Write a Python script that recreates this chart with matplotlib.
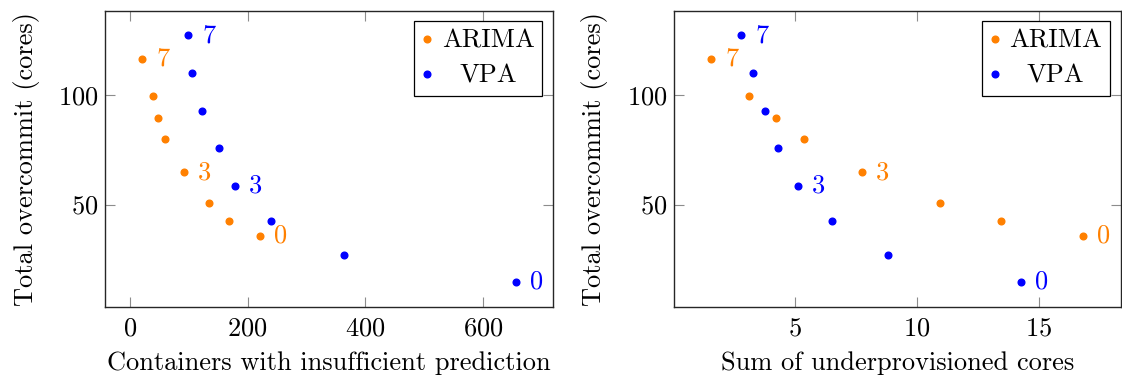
import matplotlib
matplotlib.use('Agg')
import matplotlib.pyplot as plt
from matplotlib.ticker import MultipleLocator

plt.rcParams['font.family'] = 'cmr10'
plt.rcParams['mathtext.fontset'] = 'cm'
plt.rcParams['axes.formatter.use_mathtext'] = True

# total overcommit (cores), y values shared by both panels
arima_over = [116.7, 99.9, 89.8, 79.9, 64.7, 50.6, 42.7, 35.7]
vpa_over = [127.5, 110.3, 92.9, 75.7, 58.7, 42.3, 26.7, 14.5]

# left panel: containers with insufficient prediction
arima_cont = [21.6, 39.6, 48.0, 60.6, 92.3, 134.0, 168.0, 221.9]
vpa_cont = [99.6, 106.4, 123.4, 152.2, 178.3, 239.4, 363.3, 654.8]

# right panel: sum of underprovisioned cores
arima_under = [1.56, 3.12, 4.21, 5.37, 7.76, 10.95, 13.47, 16.83]
vpa_under = [2.79, 3.26, 3.75, 4.29, 5.11, 6.51, 8.82, 14.26]

point_labels = ['7', '', '', '', '3', '', '', '0']

ORANGE = (1.0, 0.5, 0.0)
BLUE = (0.0, 0.0, 1.0)
FS = 19

fig = plt.figure(figsize=(11.22, 3.76), dpi=100)
ax1 = fig.add_axes([0.0936, 0.1843, 0.3993, 0.787])
ax2 = fig.add_axes([0.6007, 0.1843, 0.398, 0.787])


def panel(ax, xa, xv, xlabel, xstep):
    ax.plot(xa, arima_over, 'o', color=ORANGE, ms=4.8, label='ARIMA')
    ax.plot(xv, vpa_over, 'o', color=BLUE, ms=4.8, label='VPA')
    for xs, ys, c in [(xa, arima_over, ORANGE), (xv, vpa_over, BLUE)]:
        for x, y, t in zip(xs, ys, point_labels):
            if t:
                ax.annotate(t, (x, y), xytext=(10, 0), textcoords='offset points',
                            ha='left', va='center', color=c, fontsize=FS)
    ax.margins(0.1)
    ax.xaxis.set_major_locator(MultipleLocator(xstep))
    ax.yaxis.set_major_locator(MultipleLocator(50))
    ax.tick_params(direction='in', top=True, right=True, length=7, width=0.8,
                   color='0.55', labelsize=FS, labelcolor='black')
    ax.tick_params(axis='x', pad=7)
    ax.tick_params(axis='y', pad=5)
    for s in ax.spines.values():
        s.set_linewidth(1.0)
        s.set_color('0.15')
    ax.set_xlabel(xlabel, fontsize=FS, labelpad=8)
    ax.set_ylabel('Total overcommit (cores)', fontsize=FS, labelpad=13)
    leg = ax.legend(loc='upper right', fontsize=FS, fancybox=False, framealpha=1,
                    edgecolor='black', handlelength=0.4, handletextpad=0.35,
                    borderaxespad=0.4, labelspacing=0.42, borderpad=0.3)
    leg.get_frame().set_linewidth(0.9)
    return leg


leg1 = panel(ax1, arima_cont, vpa_cont, 'Containers with insufficient prediction', 200)
leg2 = panel(ax2, arima_under, vpa_under, 'Sum of underprovisioned cores', 5)

# centre the shorter legend entry like pgfplots does
fig.canvas.draw()
r = fig.canvas.get_renderer()
for leg in (leg1, leg2):
    ta, tv = leg.get_texts()
    wa = ta.get_window_extent(r).width
    wv = tv.get_window_extent(r).width
    tv.set_x((wa - wv) / 2)

fig.savefig('out.png', dpi=100)
